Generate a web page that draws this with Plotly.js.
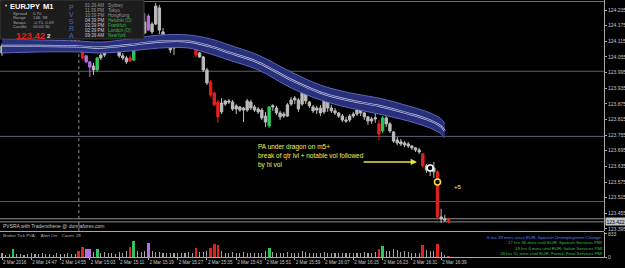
<!DOCTYPE html>
<html><head><meta charset="utf-8">
<script src="https://cdn.plot.ly/plotly-3.0.1.min.js"></script>
<style>html,body{margin:0;padding:0;background:#000;}#chart{width:625px;height:268px;}</style>
</head><body><div id="chart"></div>
<script>
// ---------- DATA (EURJPY M1, 2 Mar 2016, from 14:39) ----------
const openP = [124.070,124.097,124.101,124.097,124.108,124.105,124.101,124.105,124.108,124.105,
124.101,124.105,124.108,124.112,124.108,124.112,124.116,124.112,124.112,124.108,
124.116,124.116,124.105,124.059,124.036,124.020,124.005,124.051,124.062,124.089,
124.082,124.097,124.101,124.059,124.051,124.051,124.043,124.112,124.120,124.147,
124.158,124.181,124.181,124.243,124.151,124.108,124.101,124.089,124.108,124.101,
124.112,124.097,124.120,124.120,124.070,124.055,124.005,123.959,123.917,123.882,
123.844,123.874,123.886,123.882,123.855,123.863,123.851,123.851,123.882,123.863,
123.855,123.851,123.828,123.790,123.863,123.859,123.840,123.828,123.828,123.874,
123.890,123.890,123.874,123.920,123.882,123.863,123.851,123.859,123.844,123.894,
123.859,123.848,123.840,123.828,123.813,123.813,123.828,123.836,123.851,123.840,
123.825,123.809,123.817,123.798,123.771,123.821,123.798,123.767,123.736,123.729,
123.725,123.721,123.713,123.706,123.698,123.683,123.637,123.621,123.629,123.614,
123.441,123.433,123.433];
const highP = [124.108,124.105,124.108,124.112,124.112,124.108,124.108,124.112,124.112,124.108,
124.108,124.112,124.116,124.116,124.116,124.120,124.120,124.120,124.116,124.120,
124.120,124.120,124.108,124.062,124.039,124.032,124.055,124.070,124.097,124.101,
124.105,124.108,124.108,124.070,124.059,124.062,124.120,124.135,124.158,124.223,
124.220,124.189,124.262,124.254,124.166,124.120,124.116,124.120,124.128,124.120,
124.120,124.128,124.128,124.131,124.074,124.059,124.013,123.967,123.920,123.890,
123.897,123.890,123.894,123.890,123.874,123.867,123.863,123.894,123.890,123.871,
123.863,123.859,123.844,123.867,123.874,123.867,123.848,123.844,123.878,123.901,
123.905,123.897,123.936,123.928,123.886,123.871,123.867,123.871,123.905,123.905,
123.871,123.859,123.844,123.836,123.825,123.836,123.844,123.859,123.859,123.844,
123.828,123.825,123.844,123.813,123.828,123.828,123.805,123.771,123.748,123.740,
123.732,123.729,123.717,123.709,123.706,123.686,123.644,123.640,123.652,123.621,
123.472,123.449,123.437];
const lowP = [124.059,124.089,124.093,124.093,124.101,124.097,124.097,124.101,124.101,124.097,
124.097,124.101,124.105,124.105,124.105,124.108,124.108,124.108,124.105,124.105,
124.108,124.101,124.047,124.032,123.978,123.986,123.997,124.043,124.055,124.074,
124.078,124.085,124.051,124.043,124.028,124.036,124.039,124.097,124.112,124.143,
124.154,124.143,124.177,124.143,124.097,124.093,124.070,124.062,124.093,124.089,
124.089,124.093,124.097,124.055,124.051,123.997,123.947,123.901,123.867,123.802,
123.836,123.867,123.874,123.848,123.836,123.844,123.805,123.844,123.851,123.844,
123.836,123.813,123.786,123.782,123.848,123.832,123.813,123.821,123.825,123.867,
123.874,123.844,123.867,123.874,123.859,123.840,123.836,123.828,123.836,123.844,
123.840,123.832,123.821,123.805,123.802,123.805,123.821,123.828,123.828,123.813,
123.794,123.798,123.802,123.736,123.763,123.786,123.763,123.725,123.717,123.713,
123.709,123.706,123.698,123.690,123.683,123.629,123.610,123.598,123.591,123.429,
123.418,123.422,123.418];
const closeP = [124.097,124.101,124.105,124.108,124.105,124.101,124.105,124.108,124.105,124.101,
124.105,124.108,124.112,124.108,124.112,124.116,124.112,124.116,124.108,124.116,
124.112,124.105,124.051,124.036,124.016,124.005,124.051,124.062,124.089,124.082,
124.097,124.101,124.059,124.051,124.036,124.039,124.112,124.120,124.147,124.189,
124.212,124.151,124.250,124.158,124.108,124.101,124.082,124.108,124.101,124.112,
124.097,124.120,124.105,124.062,124.055,124.005,123.955,123.909,123.871,123.825,
123.878,123.886,123.882,123.855,123.867,123.851,123.859,123.886,123.859,123.851,
123.844,123.821,123.805,123.863,123.867,123.840,123.825,123.836,123.871,123.890,
123.897,123.855,123.928,123.886,123.867,123.848,123.859,123.840,123.894,123.859,
123.848,123.840,123.828,123.813,123.809,123.828,123.836,123.851,123.840,123.825,
123.809,123.817,123.821,123.759,123.821,123.798,123.771,123.732,123.725,123.721,
123.717,123.713,123.706,123.698,123.690,123.637,123.621,123.629,123.614,123.441,
123.433,123.429,123.422];
const tickVolume = [150,90,110,272,100,120,90,110,130,100,
120,140,100,110,90,130,120,100,140,120,
110,200,374,306,272,180,306,150,170,130,
140,120,180,150,200,374,578,200,170,220,
510,200,180,170,150,140,160,150,130,140,
160,170,150,340,170,190,210,340,476,442,
210,160,140,170,150,140,180,160,150,130,
140,160,200,340,170,150,160,140,170,160,
150,140,200,170,150,130,150,140,180,160,
140,130,150,140,130,150,140,160,150,170,
160,150,180,306,408,200,220,300,260,180,
200,170,150,140,160,442,250,230,200,476,
180,90,40];
// PVSRA candle classes (minute index)
const climaxBear = [21,22,35,53,57,58,59,103,115,119,122];
const climaxBull = [3,26,36,73,104];
const risingVol = [23,24,40];
// Dragon band (minute index, price)
const dragonT   = [0,10,21,27,35,43,51,57,62,70,79,87,95,103,111,117,120,121];
const dragonHi  = [124.124,124.120,124.116,124.112,124.124,124.139,124.139,124.124,124.101,124.062,123.997,123.947,123.917,123.897,123.867,123.840,123.817,123.798];
const dragonLo  = [124.070,124.074,124.074,124.070,124.078,124.089,124.089,124.066,124.043,124.005,123.936,123.890,123.859,123.836,123.809,123.782,123.759,123.744];
const dragonMid = [124.097,124.097,124.095,124.091,124.101,124.114,124.114,124.095,124.072,124.034,123.967,123.918,123.888,123.867,123.838,123.811,123.788,123.771];
// Axes
const timeTickMinutes = [0,8,16,24,32,40,48,56,64,72,80,88,96,104,112,120];
const timeTickLabels = ['2 Mar 2016','2 Mar 14:47','2 Mar 14:55','2 Mar 15:03','2 Mar 15:11','2 Mar 15:19','2 Mar 15:27','2 Mar 15:35','2 Mar 15:43','2 Mar 15:51','2 Mar 15:59','2 Mar 16:07','2 Mar 16:15','2 Mar 16:23','2 Mar 16:31','2 Mar 16:39'];
const priceTicks = [124.235,124.175,124.115,124.055,123.995,123.935,123.875,123.815,123.755,123.695,123.635,123.575,123.515,123.455,123.395];
const quarterLevels = [124.000,123.750,123.500];
const bidPrice = 123.422, askPrice = 123.434;
const separatorMinute = 21; // 15:00
// Markers / notes
const whiteMark = {m:117, p:123.629};
const yellowMark = {m:119, p:123.575};
const arrowFrom = {m:98.4, p:123.652}, arrowTo = {m:113.4, p:123.652};
const noteLines = ['PA under dragon on m5+','break of qtr lvl + notable vol followed','by hi vol'];
const plusNote = {m:123, p:123.556, text:'+5'};
// Info panel
const symbolName = 'EURJPY', timeframe = 'M1';
const infoLabels = ['Spread','Range','Swaps','Candle'];
const infoValues = ['0.70','146, 98','-0.75, 0.09','00:00:30'];
const lastPrice = '123.42', lastDigit = '2';
const sessionTimes = ['01:39 AM','11:39 PM','10:39 PM','04:39 PM','03:39 PM','02:39 PM','09:39 AM'];
const sessionNames = ['Sydney','Tokyo','HongKong','Helsinki (O)','Frankfurt','London (O)','NewYork'];
const sessionOpen = [false,false,false,true,true,true,true];
const newsLines = ['6 hrs 39 mins since EUR: Spanish Unemployment Change','17 hrs 36 mins until EUR: Spanish Services PMI','18 hrs 6 mins until EUR: Italian Services PMI','18 hrs 51 mins until EUR: French Final Services PMI'];

// ---------- RENDER ----------
const W = 604, H = 258; // plot area in px
const px = x => x / W, py = y => 1 - y / H;
const minutes = openP.map((_, i) => i);
const cls = i => climaxBear.includes(i) ? 'r' : climaxBull.includes(i) ? 'g' : risingVol.includes(i) ? 'p' : 'n';
const colors = {n:'#bcbcbc', r:'#e3211d', g:'#2fc65b', p:'#b96ee2'};
const volColors = {n:'#a4a4a4', r:'#e3211d', g:'#2fc65b', p:'#b96ee2'};

const traces = [];
const bandBorder = '#5e67b8', bandFill = '#28307c';
traces.push({type:'scatter', mode:'lines', x:dragonT, y:dragonLo, line:{color:bandBorder, width:1, shape:'spline'}, hoverinfo:'skip', xaxis:'x', yaxis:'y'});
traces.push({type:'scatter', mode:'lines', x:dragonT, y:dragonHi, fill:'tonexty', fillcolor:bandFill, line:{color:bandBorder, width:1, shape:'spline'}, hoverinfo:'skip', xaxis:'x', yaxis:'y'});
traces.push({type:'scatter', mode:'lines', x:dragonT, y:dragonMid, line:{color:'#c8cbe8', width:2.2, shape:'spline'}, hoverinfo:'skip', xaxis:'x', yaxis:'y'});
traces.push({type:'scatter', mode:'lines', x:dragonT, y:dragonMid, line:{color:bandFill, width:0.9, shape:'spline'}, hoverinfo:'skip', xaxis:'x', yaxis:'y'});

['n','r','g','p'].forEach(k => {
  const idx = minutes.filter(i => cls(i) === k);
  const c = colors[k];
  traces.push({type:'candlestick', x:idx, open:idx.map(i=>openP[i]), high:idx.map(i=>highP[i]), low:idx.map(i=>lowP[i]), close:idx.map(i=>closeP[i]),
    increasing:{line:{color:c, width:1}, fillcolor:c}, decreasing:{line:{color:c, width:1}, fillcolor:c},
    whiskerwidth:0, hoverinfo:'skip', xaxis:'x', yaxis:'y', showlegend:false});
});

traces.push({type:'bar', x:minutes, y:tickVolume, marker:{color:minutes.map(i=>volColors[cls(i)]), line:{width:0}},
  width:minutes.map(i=>cls(i)==='n'?0.3:0.75), hoverinfo:'skip', xaxis:'x', yaxis:'y2'});

traces.push({type:'scatter', mode:'markers', x:[whiteMark.m], y:[whiteMark.p], marker:{symbol:'circle', size:6, color:'#000', line:{color:'#ffffff', width:1.6}}, hoverinfo:'skip', xaxis:'x', yaxis:'y'});
traces.push({type:'scatter', mode:'markers', x:[yellowMark.m], y:[yellowMark.p], marker:{symbol:'circle', size:6, color:'#000', line:{color:'#f0e040', width:1.6}}, hoverinfo:'skip', xaxis:'x', yaxis:'y'});

const FONT = 'Liberation Sans, Arial, sans-serif';
const ann = [];
const txt = (x, y, text, size, color, extra) => ann.push(Object.assign({xref:'paper', yref:'paper', x:px(x), y:py(y), text:text, showarrow:false, xanchor:'left', yanchor:'middle', font:{family:FONT, size:size, color:color}, borderpad:0}, extra||{}));

// info panel
txt(3, 5.5, '▼', 4, '#cfcfcf');
txt(9, 6.5, '<b>'+symbolName+'</b>', 7.5, '#ffffff');
txt(42, 6.5, '<b>'+timeframe+'</b>', 7.5, '#ffffff');
const infoY = [13.2, 17.6, 22, 26.4];
infoLabels.forEach((l,i)=>{ txt(12, infoY[i], l, 4.3, '#a8a8a8'); txt(32, infoY[i], infoValues[i], 4.3, '#a8a8a8'); });
txt(15, 35, '<b>'+lastPrice+'</b>', 9.5, '#e8201c');
txt(46, 36, '<b>'+lastDigit+'</b>', 6, '#e8e8e8');
const pvY = [7.5, 14.5, 21.5, 28.5, 35];
'PVSRA'.split('').forEach((ch,i)=> txt(71, pvY[i], ch, 7, '#4866c8', {xanchor:'center'}));
const sessY = [5.5, 10.5, 15.4, 20.3, 25.3, 30.2, 35.2];
sessionTimes.forEach((t,i)=>{ txt(84, sessY[i], t, 4.5, sessionOpen[i]?'#d8c8d2':'#9a9a9a'); txt(107, sessY[i], sessionNames[i], 4.5, sessionOpen[i]?'#3fb548':'#9a9a9a'); });

// notes
const noteY = [147, 156, 164.5];
noteLines.forEach((l,i)=> txt(257, noteY[i], l, 6.5, '#f2f25a'));
ann.push({xref:'x', yref:'y', x:plusNote.m, y:plusNote.p, text:plusNote.text, showarrow:false, xanchor:'left', font:{family:FONT, size:6.2, color:'#f2f2b8'}});
ann.push({xref:'x', yref:'y', axref:'x', ayref:'y', x:arrowTo.m, y:arrowTo.p, ax:arrowFrom.m, ay:arrowFrom.p, text:'', showarrow:true, arrowhead:2, arrowsize:0.9, arrowwidth:1.4, arrowcolor:'#e4e440'});

// lower texts
txt(2, 226, 'PVSRA with Tradersthene @ donnaforex.com', 5, '#c8c8c8');
txt(2, 235.5, 'Broker Tick PVA:&nbsp;&nbsp;&nbsp;&nbsp;Alert On:&nbsp;&nbsp;&nbsp;Count: 29', 4.4, '#b0b0b0');
const newsY = [237.3, 242.7, 248.2, 253.3];
newsLines.forEach((l,i)=> txt(603, newsY[i], l, 4.4, i===0?'#4d80e6':'#3fbf48', {xanchor:'right'}));
// bid label on axis
ann.push({xref:'paper', yref:'y', x:1, y:bidPrice, xanchor:'left', xshift:1, text:bidPrice.toFixed(3), showarrow:false, bgcolor:'#c4c4c4', borderpad:0.5, font:{family:FONT, size:5, color:'#000'}});

const shapes = [];
quarterLevels.forEach(q => shapes.push({type:'line', xref:'paper', yref:'y', x0:0, x1:1, y0:q, y1:q, line:{color:'#5e5e76', width:1}, layer:'below'}));
[askPrice, bidPrice].forEach(q => shapes.push({type:'line', xref:'paper', yref:'y', x0:0, x1:1, y0:q, y1:q, line:{color:'#8e8e8e', width:1}, layer:'below'}));
shapes.push({type:'line', xref:'x', yref:'paper', x0:separatorMinute, x1:separatorMinute, y0:py(231), y1:py(38), line:{color:'#8a8a8a', width:1, dash:'dot'}, layer:'below'});
shapes.push({type:'line', xref:'paper', yref:'paper', x0:0, x1:1, y0:py(231.5), y1:py(231.5), line:{color:'#a8a8a8', width:1}});
shapes.push({type:'line', xref:'paper', yref:'paper', x0:0, x1:1, y0:py(1.5), y1:py(1.5), line:{color:'#6e6e6e', width:1}});
shapes.push({type:'rect', xref:'paper', yref:'paper', x0:px(0), x1:px(144), y0:py(0), y1:py(39), fillcolor:'#1c1c1c', line:{color:'#3a3a3a', width:1}, layer:'above'});

const axisFont = {family:FONT, size:5, color:'#c8c8c8'};
const layout = {
  width:625, height:268, margin:{l:0, r:21, t:0, b:10},
  paper_bgcolor:'#000', plot_bgcolor:'#000', showlegend:false,
  boxgap:0.2, boxgroupgap:0.2, bargap:0,
  xaxis:{range:[-0.55,164.5], anchor:'y2', showgrid:false, zeroline:false, showline:true, linecolor:'#a8a8a8', linewidth:1,
    tickvals:timeTickMinutes, ticktext:timeTickLabels, ticks:'outside', ticklen:2, tickcolor:'#a8a8a8', tickfont:{family:FONT, size:4.6, color:'#c8c8c8'},
    tickangle:0, automargin:false, ticklabelposition:'outside right', rangeslider:{visible:false}, fixedrange:true},
  yaxis:{domain:[py(231), 1], range:[123.387, 124.2734], side:'right', showgrid:false, zeroline:false, showline:true, linecolor:'#a8a8a8', linewidth:1,
    tickvals:priceTicks, ticktext:priceTicks.map(v=>v.toFixed(3)), ticks:'outside', ticklen:2, tickcolor:'#a8a8a8', tickfont:axisFont, automargin:false, fixedrange:true},
  yaxis2:{domain:[py(257), py(232)], range:[0,900], side:'right', anchor:'x', showgrid:false, zeroline:false, showline:true, linecolor:'#a8a8a8', linewidth:1,
    tickvals:[0,833], ticktext:['0','833'], ticks:'outside', ticklen:2, tickcolor:'#a8a8a8', tickfont:axisFont, automargin:false, fixedrange:true},
  shapes:shapes, annotations:ann
};
Plotly.newPlot('chart', traces, layout, {staticPlot:true, displayModeBar:false});
</script></body></html>
